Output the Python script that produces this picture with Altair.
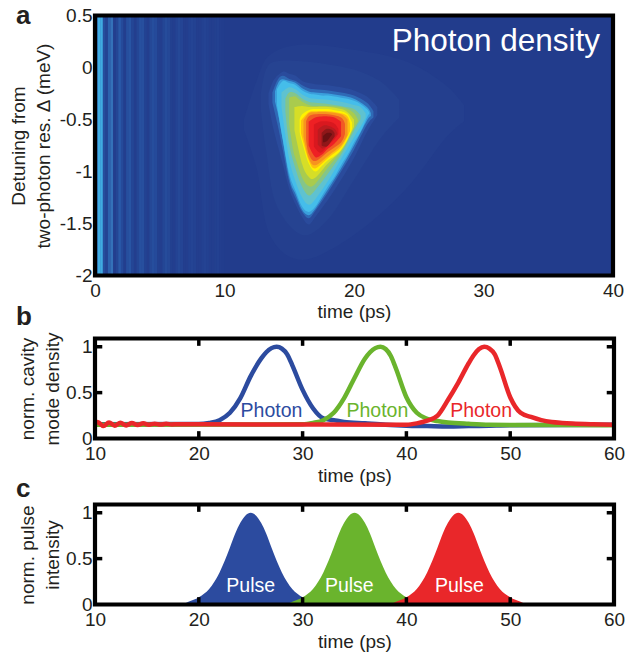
import altair as alt
import pandas as pd

FONT = "Liberation Sans"
INK = "#231f20"

# ---- panel a: stripes (time cell start, relative density) ----
stripe_t = [0.0, 0.2, 0.4, 0.6, 0.8, 1.0, 1.2, 1.4, 1.6, 1.8, 2.0, 2.2, 2.4, 2.6, 2.8, 3.0, 3.2, 3.4, 3.6, 3.8,
            4.0, 4.2, 4.4, 4.6, 4.8, 5.0, 5.2, 5.4, 5.6, 5.8, 6.0, 6.2, 6.4, 6.6, 6.8, 7.0, 7.2, 7.4, 7.6, 7.8,
            8.0, 8.2, 8.4, 8.6, 8.8, 9.0, 9.2, 9.4, 9.6, 9.8]
stripe_v = [0.3, 0.95, 0.9, 0.14, 0.06, 0.3, 0.42, 0.02, 0.08, 0.24, 0.12, 0.02, 0.16, 0.2, 0.08, 0.02, 0.08, 0.17, 0.16, 0.05,
            0.02, 0.1, 0.15, 0.12, 0.03, 0.02, 0.08, 0.13, 0.1, 0.03, 0.02, 0.06, 0.1, 0.07, 0.02, 0.02, 0.05, 0.07, 0.05, 0.02,
            0.02, 0.04, 0.06, 0.04, 0.02, 0.02, 0.03, 0.04, 0.02, 0.01]

# ---- panel a: iso-density bands: (colour, times, upper detuning, lower detuning) ----
band_w1 = ("#243f8e", [11.5, 12.5, 13.5, 16, 20, 24, 27, 28.5],
           [-0.5, -0.12, 0.12, 0.22, 0.17, 0.06, -0.16, -0.36],
           [-0.6, -0.98, -1.61, -1.85, -1.61, -1.17, -0.69, -0.52])
band_w2 = ("#264391", [12.8, 13.2, 14, 16, 18, 20, 22, 23.5],
           [-0.26, -0.02, 0.06, 0.06, 0.03, -0.02, -0.13, -0.31],
           [-0.40, -0.79, -1.32, -1.61, -1.46, -1.08, -0.69, -0.48])
band_e0 = ("#2a4b9c", [13.4, 13.8, 14.5, 15, 15.5, 16, 16.5, 17, 18, 19, 20, 21, 21.8],
           [-0.25, -0.12, -0.04, -0.06, -0.08, -0.13, -0.15, -0.16, -0.17, -0.19, -0.22, -0.28, -0.38],
           [-0.35, -0.60, -0.93, -1.17, -1.32, -1.44, -1.51, -1.44, -1.27, -1.08, -0.87, -0.62, -0.46])
band_e1 = ("#2f6ab6", [13.7, 14.1, 14.5, 15, 15.5, 16, 16.5, 17, 18, 19, 20, 21, 21.5],
           [-0.24, -0.12, -0.08, -0.11, -0.13, -0.17, -0.20, -0.21, -0.22, -0.24, -0.27, -0.34, -0.42],
           [-0.34, -0.55, -0.79, -1.10, -1.26, -1.39, -1.45, -1.38, -1.20, -1.00, -0.79, -0.55, -0.48])
band_e2 = ("#3a9fdc", [13.9, 14.3, 15, 15.5, 16, 16.5, 17, 18, 19, 20, 21, 21.3],
           [-0.23, -0.12, -0.13, -0.15, -0.20, -0.23, -0.24, -0.25, -0.27, -0.30, -0.38, -0.44],
           [-0.33, -0.55, -1.06, -1.22, -1.37, -1.42, -1.36, -1.17, -0.97, -0.75, -0.51, -0.47])
band_c2 = ("#45bdea", [14.05, 14.5, 15, 15.5, 16, 16.5, 17, 17.5, 18, 18.5, 19, 19.5, 20, 20.5, 21, 21.2],
           [-0.21, -0.13, -0.15, -0.17, -0.22, -0.25, -0.26, -0.27, -0.27, -0.28, -0.29, -0.30, -0.32, -0.35, -0.40, -0.44],
           [-0.36, -0.69, -1.02, -1.19, -1.34, -1.39, -1.34, -1.24, -1.14, -1.05, -0.94, -0.84, -0.72, -0.62, -0.48, -0.44])
band_c3 = ("#5fc2d0", [14.4, 15, 15.5, 16, 16.5, 17, 18, 19, 20, 20.5, 20.9],
           [-0.24, -0.19, -0.21, -0.26, -0.29, -0.30, -0.31, -0.33, -0.36, -0.38, -0.44],
           [-0.38, -0.88, -1.10, -1.25, -1.32, -1.27, -1.09, -0.88, -0.67, -0.57, -0.48])
band_c4 = ("#84c58a", [14.7, 15, 15.5, 16, 16.5, 17, 18, 19, 20, 20.5],
           [-0.30, -0.24, -0.25, -0.30, -0.33, -0.34, -0.35, -0.37, -0.40, -0.46],
           [-0.42, -0.74, -0.98, -1.15, -1.23, -1.18, -1.02, -0.84, -0.61, -0.50])
band_c5 = ("#a9cb4e", [15, 15.3, 15.5, 16, 16.5, 17, 18, 19, 19.5, 20, 20.3],
           [-0.29, -0.28, -0.28, -0.33, -0.36, -0.37, -0.37, -0.38, -0.40, -0.44, -0.50],
           [-0.55, -0.79, -0.88, -1.06, -1.14, -1.12, -0.96, -0.81, -0.69, -0.58, -0.52])
band_c6 = ("#d6de27", [15.4, 16, 16.5, 17, 18, 19, 19.5, 20],
           [-0.38, -0.37, -0.38, -0.38, -0.38, -0.40, -0.43, -0.50],
           [-0.60, -0.93, -1.05, -1.06, -0.92, -0.80, -0.70, -0.57])
band_y = ("#fff200", [15.8, 16, 16.5, 17, 17.5, 18, 18.5, 19, 19.5, 19.85],
          [-0.50, -0.45, -0.41, -0.40, -0.40, -0.40, -0.41, -0.42, -0.45, -0.53],
          [-0.62, -0.72, -0.92, -1.00, -0.95, -0.89, -0.85, -0.79, -0.69, -0.59])
band_a1 = ("#fdc010", [15.9, 16.5, 17, 18, 19, 19.5, 19.7],
           [-0.51, -0.43, -0.42, -0.42, -0.44, -0.47, -0.54],
           [-0.63, -0.89, -0.97, -0.87, -0.77, -0.66, -0.61])
band_a2 = ("#f7941e", [16.1, 16.5, 17, 18, 19, 19.5],
           [-0.51, -0.44, -0.43, -0.43, -0.45, -0.50],
           [-0.66, -0.87, -0.94, -0.85, -0.75, -0.65])
band_a3 = ("#f15a24", [16.3, 16.5, 17, 18, 19, 19.3],
           [-0.52, -0.47, -0.45, -0.45, -0.48, -0.54],
           [-0.69, -0.83, -0.90, -0.81, -0.72, -0.64])
band_r = ("#ee2024", [16.5, 17, 17.5, 18, 18.5, 19],
          [-0.52, -0.48, -0.47, -0.47, -0.48, -0.52],
          [-0.75, -0.86, -0.84, -0.78, -0.73, -0.66])
band_r1 = ("#d9181f", [16.9, 17.4, 18, 18.5, 18.8],
           [-0.55, -0.52, -0.52, -0.54, -0.59],
           [-0.76, -0.82, -0.75, -0.69, -0.64])
band_r2 = ("#bb1b1f", [17.2, 17.6, 18, 18.5, 18.7],
           [-0.60, -0.56, -0.56, -0.59, -0.63],
           [-0.74, -0.78, -0.73, -0.67, -0.64])
band_r3 = ("#8f1719", [17.5, 17.9, 18.3, 18.5],
           [-0.63, -0.59, -0.60, -0.63],
           [-0.75, -0.76, -0.70, -0.66])
band_core = ("#6b1012", [17.6, 17.9, 18.2, 18.3],
             [-0.66, -0.63, -0.63, -0.64],
             [-0.72, -0.71, -0.66, -0.65])
bands = [band_w1, band_w2, band_e0, band_e1, band_e2, band_c2, band_c3, band_c4, band_c5, band_c6,
         band_y, band_a1, band_a2, band_a3, band_r, band_r1, band_r2, band_r3, band_core]

# ---- panel b ----
blue_t = [10, 20, 21, 22, 23, 24, 25, 26, 26.5, 27, 27.5, 28, 28.5, 29, 30, 31, 32, 33, 34, 36, 38, 40, 42, 44, 46, 48, 50, 60]
blue_v = [.155, .158, .17, .2, .28, .44, .68, .87, .94, .985, 1, .98, .92, .8, .53, .33, .22, .2, .18, .165, .15, .14, .135, .13, .135, .14, .145, .15]
green_t = [10, 30, 31, 32, 33, 34, 35, 36, 36.5, 37, 37.5, 38, 38.5, 39, 40, 41, 42, 43, 44, 46, 48, 50, 55, 60]
green_v = [.15, .155, .17, .2, .28, .44, .66, .87, .94, .985, 1, .975, .9, .76, .45, .28, .215, .19, .175, .16, .15, .148, .147, .145]
red_t = [10, 10.25, 10.8, 11.35, 11.9, 12.45, 13, 13.55, 14.1, 14.65, 15.2, 15.75, 16.3, 16.85, 17.4, 18, 20, 30, 40, 41, 42, 43, 44, 45, 46, 46.5, 47, 47.5, 48, 48.5, 49, 50, 51, 52, 53, 54, 55, 56, 58, 60]
red_v = [.16, .18, .135, .175, .14, .172, .143, .168, .147, .165, .15, .162, .152, .16, .153, .155, .155, .152, .15, .165, .195, .25, .42, .61, .82, .91, .975, 1, .98, .92, .78, .45, .28, .235, .2, .18, .17, .163, .155, .15]
photon_names = ["blue", "green", "red"]
photon_x = [27.0, 37.2, 47.2]
photon_y = [0.3, 0.3, 0.3]
photon_colors = ["#2c4b9f", "#6ab42d", "#e9272a"]

# ---- panel c ----
pulse1_t = [18.5, 19, 20, 21, 22, 23, 23.5, 24, 24.5, 25, 25.5, 26, 26.5, 27, 28, 29, 30, 31, 31.5]
pulse1_v = [0, .03, .08, .17, .35, .62, .77, .89, .97, 1, .97, .89, .77, .62, .35, .17, .08, .03, 0]
pulse2_t = [28.5, 29, 30, 31, 32, 33, 33.5, 34, 34.5, 35, 35.5, 36, 36.5, 37, 38, 39, 40, 41, 41.5]
pulse2_v = [0, .03, .08, .17, .35, .62, .77, .89, .97, 1, .97, .89, .77, .62, .35, .17, .08, .03, 0]
pulse3_t = [38.5, 39, 40, 41, 42, 43, 43.5, 44, 44.5, 45, 45.5, 46, 46.5, 47, 48, 49, 50, 51, 51.5]
pulse3_v = [0, .03, .08, .17, .35, .62, .77, .89, .97, 1, .97, .89, .77, .62, .35, .17, .08, .03, 0]
pulse_x = [25.0, 34.5, 45.1]
pulse_y = [0.2, 0.2, 0.2]
pulse_colors = ["#2c4b9c", "#69b32d", "#e72822"]

# inward tick marks, in data units
x_ticks = [20, 30, 40, 50]
x_tick_lo = [0, 1.01]
x_tick_hi = [0.08, 1.09]
y_ticks = [0.5, 1]
y_tick_lo = [10, 59.3]
y_tick_hi = [10.7, 60]
W = 518
Ha = 260
Hb = 100

# ---- frames ----
one = pd.DataFrame({"k": [0]})


def frame(w, h):
    return alt.Chart(one).mark_rect(filled=False, stroke="black", strokeWidth=4.2).encode(
        x=alt.value(0), x2=alt.value(w), y=alt.value(0), y2=alt.value(h))


def label(txt, px, py):
    return alt.Chart(pd.DataFrame({"s": [txt]})).mark_text(
        text=txt, font=FONT, fontWeight="bold", fontSize=26, align="left", baseline="alphabetic", color=INK
    ).encode(x=alt.value(px), y=alt.value(py))


def xaxis(values, title="time (ps)", tp=3):
    return alt.Axis(values=values, title=title, domain=False, ticks=False, grid=False, format="d",
                    labelPadding=6, titlePadding=tp, labelFlush=False, labelOverlap=False)


def yaxis(values, title, tx):
    return alt.Axis(values=values, title=title, domain=False, ticks=False, grid=False,
                    labelExpr="toString(datum.value)", labelPadding=3, titleX=tx, titleLineHeight=25,
                    labelOverlap=False, labelBound=False, labelFlush=False)


xa = alt.Scale(domain=[0, 40], nice=False, zero=False)
ya = alt.Scale(domain=[-2, 0.5], nice=False, zero=False)

# panel a
df_bg = pd.DataFrame({"a": [0], "b": [40], "v": [0.0]})
df_st = pd.DataFrame({"a": stripe_t, "b": [t + 0.22 for t in stripe_t], "v": stripe_v})
stripe_scale = alt.Scale(domain=[0, 0.25, 0.5, 1], range=["#223c8c", "#2a5aa8", "#3a7cc0", "#45b5e8"])
bg = alt.Chart(pd.concat([df_bg, df_st])).mark_rect().encode(
    x=alt.X("a:Q", scale=xa, axis=xaxis([0, 10, 20, 30, 40], tp=1.5)),
    x2="b:Q",
    y=alt.Y("y0:Q", scale=ya, axis=yaxis([0.5, 0, -0.5, -1, -1.5, -2], ["Detuning from", "two-photon res.  Δ (meV)"], -67)),
    y2="y1:Q",
    color=alt.Color("v:Q", scale=stripe_scale, legend=None),
).transform_calculate(y0="-2", y1="0.5")

rows = []
for i, (col, ts, ups, los) in enumerate(bands):
    for t, u, l in zip(ts, ups, los):
        rows.append({"band": col, "t": t, "u": u, "l": l, "i": i})
df_bands = pd.DataFrame(rows)
blob = alt.Chart(df_bands).mark_area(interpolate="cardinal").encode(
    x=alt.X("t:Q", scale=xa),
    y=alt.Y("u:Q", scale=ya),
    y2="l:Q",
    color=alt.Color("band:N", scale=alt.Scale(domain=[b[0] for b in bands], range=[b[0] for b in bands]), legend=None),
    detail="i:O",
)
ttl = alt.Chart(pd.DataFrame({"t": [39.0], "d": [0.25]})).mark_text(
    text="Photon density", font=FONT, fontSize=31.5, color="white", align="right", baseline="middle"
).encode(x=alt.X("t:Q", scale=xa), y=alt.Y("d:Q", scale=ya))

panel_a = alt.layer(bg, blob, ttl, frame(W, Ha), label("a", -79, 8.5), label("b", -79, 309.5)).resolve_scale(
    color="independent").properties(width=W, height=Ha)

xb = alt.Scale(domain=[10, 60], nice=False, zero=False)
yb = alt.Scale(domain=[0, 1.09], nice=False, zero=False)


def ticks():
    rows_x = [{"x": x, "a": lo, "b": hi} for x in x_ticks for lo, hi in zip(x_tick_lo, x_tick_hi)]
    rows_y = [{"y": y, "a": lo, "b": hi} for y in y_ticks for lo, hi in zip(y_tick_lo, y_tick_hi)]
    vertical = alt.Chart(pd.DataFrame(rows_x)).mark_rule(color="black", strokeWidth=3.5).encode(
        x=alt.X("x:Q", scale=xb), y=alt.Y("a:Q", scale=yb), y2="b:Q")
    horizontal = alt.Chart(pd.DataFrame(rows_y)).mark_rule(color="black", strokeWidth=3.5).encode(
        y=alt.Y("y:Q", scale=yb), x=alt.X("a:Q", scale=xb), x2="b:Q")
    return [vertical, horizontal]


# panel b
df_lines = pd.concat([
    pd.DataFrame({"s": "blue", "t": blue_t, "v": blue_v}),
    pd.DataFrame({"s": "green", "t": green_t, "v": green_v}),
    pd.DataFrame({"s": "red", "t": red_t, "v": red_v}),
])
series_scale = alt.Scale(domain=photon_names, range=photon_colors)
lines = alt.Chart(df_lines).mark_line(strokeWidth=4.5, interpolate="monotone").encode(
    x=alt.X("t:Q", scale=xb, axis=xaxis([10, 20, 30, 40, 50, 60])),
    y=alt.Y("v:Q", scale=yb, axis=yaxis([0, 0.5, 1], ["norm. cavity", "mode density"], -58)),
    color=alt.Color("s:N", scale=series_scale, legend=None),
)
photon_txt = alt.Chart(pd.DataFrame({"s": photon_names, "t": photon_x, "v": photon_y})).mark_text(
    text="Photon", font=FONT, fontSize=19.5, baseline="middle", align="center"
).encode(x=alt.X("t:Q", scale=xb), y=alt.Y("v:Q", scale=yb), color=alt.Color("s:N", scale=series_scale, legend=None))
panel_b = alt.layer(lines, photon_txt, *ticks(), frame(W + 1, Hb), label("c", -79, 158)).properties(
    width=W + 1, height=Hb)

# panel c
df_p = pd.concat([
    pd.DataFrame({"s": "blue", "t": pulse1_t, "v": pulse1_v}),
    pd.DataFrame({"s": "green", "t": pulse2_t, "v": pulse2_v}),
    pd.DataFrame({"s": "red", "t": pulse3_t, "v": pulse3_v}),
])
pulse_scale = alt.Scale(domain=photon_names, range=pulse_colors)
areas = alt.Chart(df_p).mark_area(interpolate="monotone").encode(
    x=alt.X("t:Q", scale=xb, axis=xaxis([10, 20, 30, 40, 50, 60])),
    y=alt.Y("v:Q", scale=yb, stack=None, axis=yaxis([0, 0.5, 1], ["norm. pulse", "intensity"], -58)),
    color=alt.Color("s:N", scale=pulse_scale, legend=None),
)
pulse_txt = alt.Chart(pd.DataFrame({"t": pulse_x, "v": pulse_y})).mark_text(
    text="Pulse", font=FONT, fontSize=19.5, baseline="middle", align="center", color="white"
).encode(x=alt.X("t:Q", scale=xb), y=alt.Y("v:Q", scale=yb))
panel_c = alt.layer(areas, pulse_txt, *ticks(), frame(W + 1, Hb)).properties(width=W + 1, height=Hb)

chart = alt.vconcat(alt.vconcat(panel_a, panel_b, spacing=1), panel_c, spacing=0).properties(
    padding={"left": 0, "top": -5.5, "right": 0, "bottom": 0}
).configure_view(stroke=None).configure_axis(
    labelFont=FONT, labelFontSize=19, labelColor=INK, titleFont=FONT, titleFontSize=19,
    titleColor=INK, titleFontWeight="normal"
)
chart.save("out.html", embed_options={"renderer": "svg", "actions": False})
